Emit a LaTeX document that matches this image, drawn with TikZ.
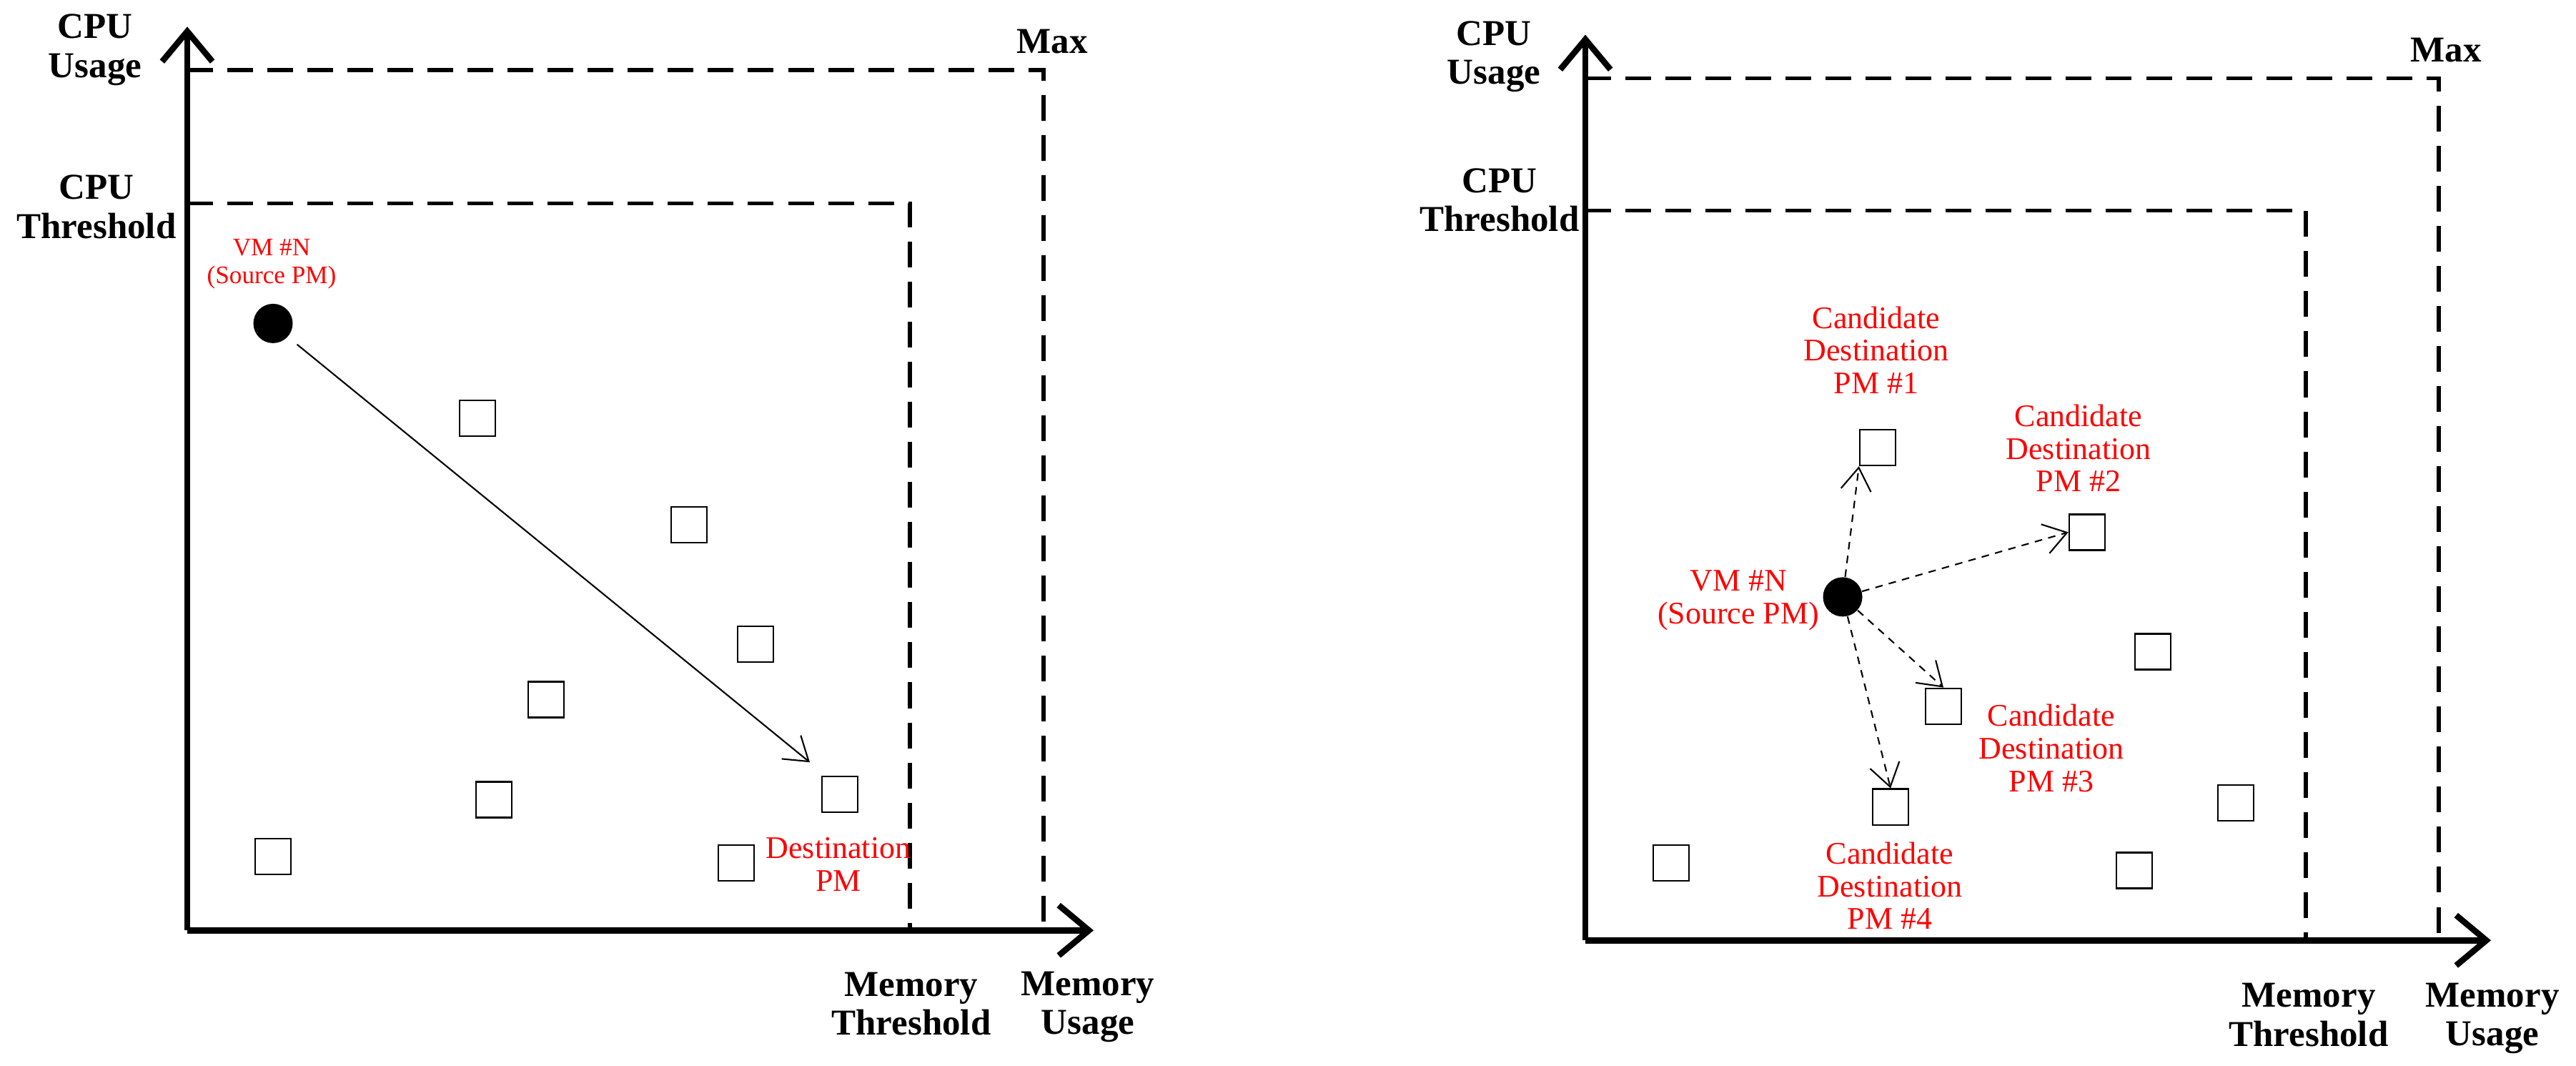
\documentclass[tikz,border=0pt]{standalone}
\usepackage{fontspec}
\setmainfont{Liberation Serif}
\usetikzlibrary{arrows.meta}
\begin{document}
\begin{tikzpicture}[x=0.01cm,y=-0.00932cm,
  axis/.style={line width=2.4pt,-{Straight Barb[length=12pt,width=20pt,line width=2.4pt]}},
  lim/.style={line width=1.5pt,dash pattern=on 0.36cm off 0.2cm},
  pm/.style={draw,line width=0.7pt,minimum size=0.5cm,inner sep=0pt},
  vm/.style={circle,fill=black,minimum size=0.55cm,inner sep=0pt},
  lab/.style={font=\bfseries\fontsize{14.5}{15.5}\selectfont,align=center},
  red/.style={text=red,font=\fontsize{12.5}{13}\selectfont,align=center},
  mig/.style={line width=0.6pt,-{Straight Barb[length=9pt,width=12pt,line width=0.6pt]}},
  cand/.style={mig,dash pattern=on 3pt off 2.5pt}]
\useasboundingbox (0,0) rectangle (3604,1598);
% ---------- left panel
\coordinate (lo) at (262,1395);
\coordinate (ly) at (262,40);
\coordinate (lx) at (1530,1395);
\draw[lim] (262,105) -- (1460,105) -- (1460,1395);
\draw[lim] (262,305) -- (1273,305) -- (1273,1395);
\draw[axis] (lo) -- (ly);
\draw[axis] (lo) -- (lx);
\node[vm] (lvm) at (382,485) {};
\node[pm] (l1) at (668,627) {};
\node[pm] (l2) at (964,787) {};
\node[pm] (l3) at (1057,966) {};
\node[pm] (l4) at (764,1049) {};
\node[pm] (l5) at (691,1199) {};
\node[pm] (l6) at (382,1284) {};
\node[pm] (l7) at (1030,1294) {};
\node[pm] (ld) at (1175,1191) {};
\coordinate (la) at (1133,1143);
\draw[mig] (lvm.-40) ++(12,12) coordinate (ls) (ls) -- (la);
\node[red,font=\fontsize{10}{11}\selectfont] (lvml) at (380,396) {VM \#N\\(Source PM)};
\node[red] (ldl) at (1173,1296) {Destination\\PM};
\node[lab] (lcu) at (133,75) {CPU\\Usage};
\node[lab] (lct) at (135,310) {CPU\\Threshold};
\node[lab] (lmax) at (1472,62) {Max};
\node[lab] (lmt) at (1275,1505) {Memory\\Threshold};
\node[lab] (lmu) at (1522,1510) {Memory\\Usage};
% ---------- right panel
\coordinate (ro) at (2218,1410);
\coordinate (ry) at (2218,52);
\coordinate (rx) at (3485,1410);
\draw[lim] (2218,117) -- (3412,117) -- (3412,1410);
\draw[lim] (2218,316) -- (3226,316) -- (3226,1410);
\draw[axis] (ro) -- (ry);
\draw[axis] (ro) -- (rx);
\node[vm] (rvm) at (2578,895) {};
\node[pm] (p1) at (2627,671) {};
\node[pm] (p2) at (2920,798) {};
\node[pm] (p3) at (2719,1059) {};
\node[pm] (p4) at (2645,1210) {};
\node[pm] (r5) at (3012,977) {};
\node[pm] (r6) at (3128,1204) {};
\node[pm] (r7) at (2986,1305) {};
\node[pm] (r8) at (2338,1294) {};
\draw[cand] (rvm) -- (p1.south west);
\draw[cand] (rvm) -- (p2.west);
\draw[cand] (rvm) -- (p3.north);
\draw[cand] (rvm) -- (p4.north);
\node[red] (p1l) at (2625,525) {Candidate\\Destination\\PM \#1};
\node[red] (p2l) at (2908,672) {Candidate\\Destination\\PM \#2};
\node[red] (p3l) at (2870,1122) {Candidate\\Destination\\PM \#3};
\node[red] (p4l) at (2644,1328) {Candidate\\Destination\\PM \#4};
\node[red] (rvml) at (2432,900) {VM \#N\\(Source PM)};
\node[lab] (rcu) at (2090,85) {CPU\\Usage};
\node[lab] (rct) at (2098,300) {CPU\\Threshold};
\node[lab] (rmax) at (3422,75) {Max};
\node[lab] (rmt) at (3230,1522) {Memory\\Threshold};
\node[lab] (rmu) at (3487,1527) {Memory\\Usage};
\end{tikzpicture}
\end{document}
